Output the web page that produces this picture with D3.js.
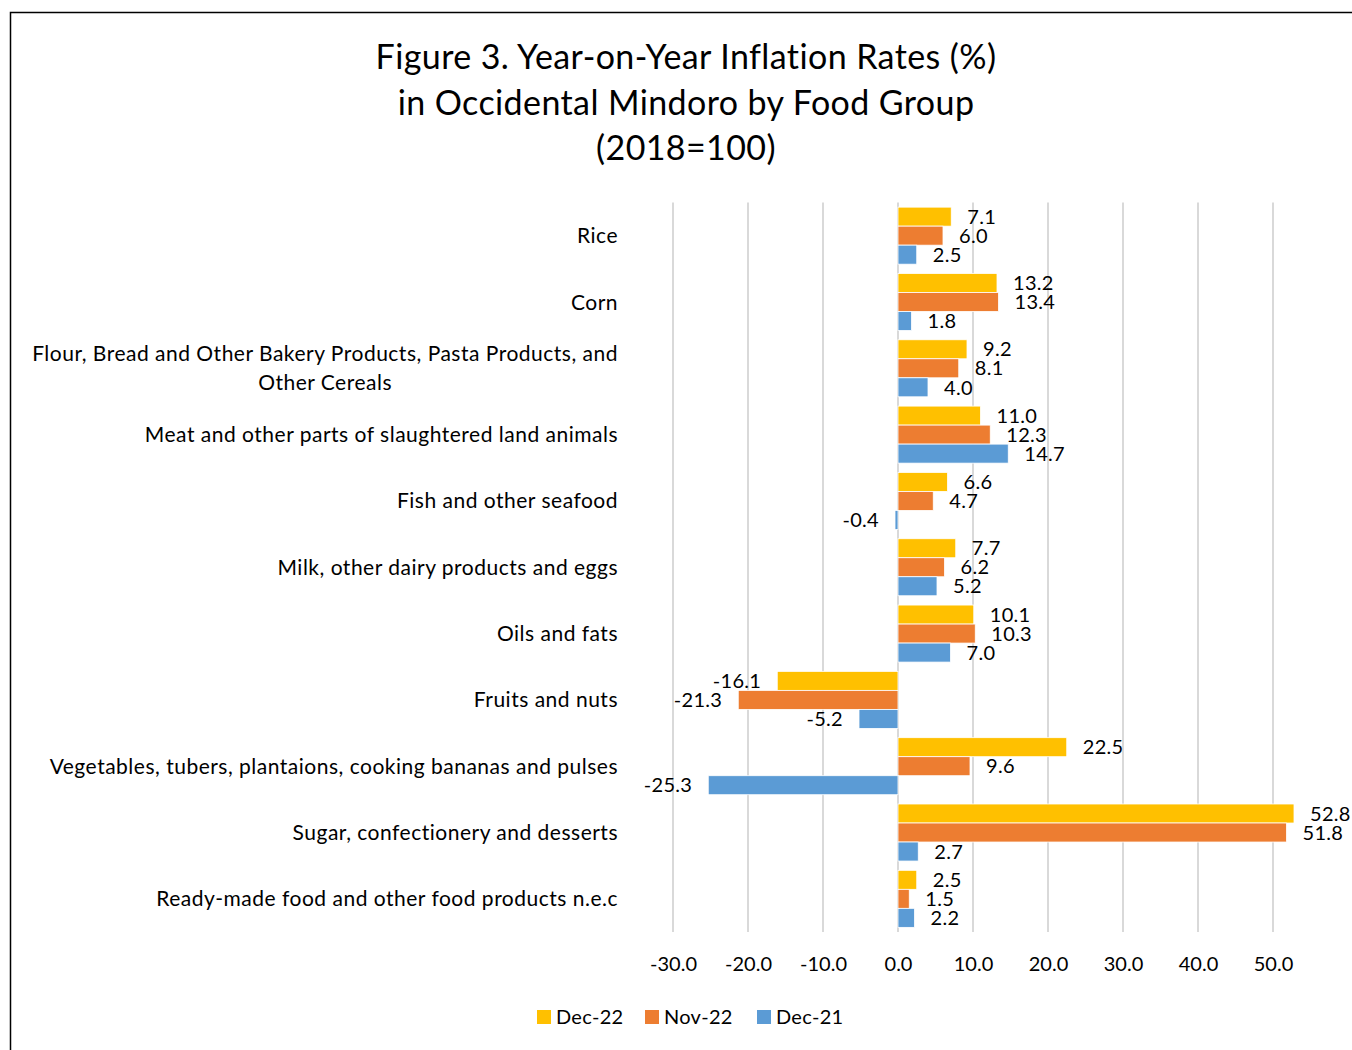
<!DOCTYPE html>
<html>
<head>
<meta charset="utf-8">
<script src="https://cdn.jsdelivr.net/npm/d3@7"></script>
<style>
  body { margin: 0; background: #fff; }
  svg { font-family: Lato, "Open Sans", sans-serif; }
</style>
</head>
<body>
<svg id="chart" width="1352" height="1050"></svg>
<script>
const categories = [
  'Rice',
  'Corn',
  'Flour, Bread and Other Bakery Products, Pasta Products, and|Other Cereals',
  'Meat and other parts of slaughtered land animals',
  'Fish and other seafood',
  'Milk, other dairy products and eggs',
  'Oils and fats',
  'Fruits and nuts',
  'Vegetables, tubers, plantaions, cooking bananas and pulses',
  'Sugar, confectionery and desserts',
  'Ready-made food and other food products n.e.c'
];
const seriesNames = ['Dec-22', 'Nov-22', 'Dec-21'];
const dec22 = [7.1, 13.2, 9.2, 11.0, 6.6, 7.7, 10.1, -16.1, 22.5, 52.8, 2.5];
const nov22 = [6.0, 13.4, 8.1, 12.3, 4.7, 6.2, 10.3, -21.3, 9.6, 51.8, 1.5];
const dec21 = [2.5, 1.8, 4.0, 14.7, -0.4, 5.2, 7.0, -5.2, -25.3, 2.7, 2.2];
const tickValues = [-30, -20, -10, 0, 10, 20, 30, 40, 50];
const colors = ['#FFC000', '#ED7D31', '#5B9BD5'];

const fmt = v => v.toFixed(1);
const svg = d3.select('#chart');

// chart frame
svg.append('rect')
  .attr('x', 10.5).attr('y', 12.5)
  .attr('width', 1360).attr('height', 1060)
  .attr('fill', 'none').attr('stroke', '#000').attr('stroke-width', 1.5);

// title
const titleLines = ['Figure 3. Year-on-Year Inflation Rates (%)', 'in Occidental Mindoro by Food Group', '(2018=100)'];
svg.append('g').selectAll('text')
  .data(titleLines)
  .enter().append('text')
  .attr('x', 686)
  .attr('y', (d, i) => 69 + i * 45.5)
  .attr('text-anchor', 'middle')
  .attr('font-size', 34)
  .attr('letter-spacing', 0.4)
  .attr('fill', '#000')
  .text(d => d);

const x = d3.scaleLinear().domain([-30, 60]).range([673, 1348]);
const y = d3.scaleBand().domain(categories).range([202.5, 932]).paddingInner(0.14).paddingOuter(0.07);
const ySub = d3.scaleBand().domain(seriesNames).range([0, y.bandwidth()]);

const series = seriesNames.map((name, i) => ({
  name: name,
  color: colors[i],
  values: [dec22, nov22, dec21][i]
}));

// grid lines
svg.append('g').selectAll('line')
  .data(tickValues)
  .enter().append('line')
  .attr('x1', d => x(d)).attr('x2', d => x(d))
  .attr('y1', 202.5).attr('y2', 932)
  .attr('stroke', '#D9D9D9').attr('stroke-width', 2);

// x axis labels
const xAxis = d3.axisBottom(x).tickValues(tickValues).tickSize(0).tickFormat(fmt);
const gx = svg.append('g')
  .attr('transform', 'translate(0, 954)')
  .call(xAxis);
gx.select('.domain').remove();
gx.selectAll('text').attr('font-size', 20).attr('font-family', 'Lato, "Open Sans", sans-serif').attr('fill', '#000');

// bars
const groups = svg.append('g').selectAll('g')
  .data(series)
  .enter().append('g')
  .attr('fill', d => d.color);

groups.selectAll('rect')
  .data(s => s.values.map((v, i) => ({v: v, cat: categories[i], s: s.name})))
  .enter().append('rect')
  .attr('x', d => x(Math.min(0, d.v)))
  .attr('y', d => y(d.cat) + ySub(d.s))
  .attr('width', d => Math.abs(x(d.v) - x(0)))
  .attr('height', ySub.bandwidth())
  .attr('stroke', '#fff').attr('stroke-width', 0.8);

// value labels
groups.selectAll('text')
  .data(s => s.values.map((v, i) => ({v: v, cat: categories[i], s: s.name})))
  .enter().append('text')
  .attr('x', d => d.v >= 0 ? x(d.v) + 16 : x(d.v) - 16)
  .attr('y', d => y(d.cat) + ySub(d.s) + ySub.bandwidth() / 2)
  .attr('dy', '0.36em')
  .attr('text-anchor', d => d.v >= 0 ? 'start' : 'end')
  .attr('font-size', 20)
  .attr('letter-spacing', 0.3)
  .attr('fill', '#000')
  .text(d => fmt(d.v));

// category labels
const catG = svg.append('g');
categories.forEach(c => {
  const lines = c.split('|');
  const cy = y(c) + y.bandwidth() / 2;
  const t = catG.append('text')
    .attr('font-size', 21)
    .attr('letter-spacing', 0.5)
    .attr('fill', '#000');
  lines.forEach((l, i) => {
    t.append('tspan')
      .attr('y', cy + (i - (lines.length - 1) / 2) * 29)
      .attr('dy', '0.36em')
      .text(l);
  });
  if (lines.length === 1) {
    t.attr('text-anchor', 'end').selectAll('tspan').attr('x', 618);
  } else {
    let w = 0;
    t.selectAll('tspan').each(function() { w = Math.max(w, this.getComputedTextLength()); });
    t.attr('text-anchor', 'middle').selectAll('tspan').attr('x', 618 - w / 2);
  }
});

// legend
const legendX = [537, 645, 757];
const legend = svg.append('g').selectAll('g')
  .data(series)
  .enter().append('g')
  .attr('transform', (d, i) => `translate(${legendX[i]}, 1017)`);
legend.append('rect')
  .attr('x', 0).attr('y', -7)
  .attr('width', 14).attr('height', 14)
  .attr('fill', d => d.color);
legend.append('text')
  .attr('x', 19).attr('dy', '0.36em')
  .attr('font-size', 20)
  .attr('letter-spacing', 0.3)
  .attr('fill', '#000')
  .text(d => d.name);
</script>
</body>
</html>
